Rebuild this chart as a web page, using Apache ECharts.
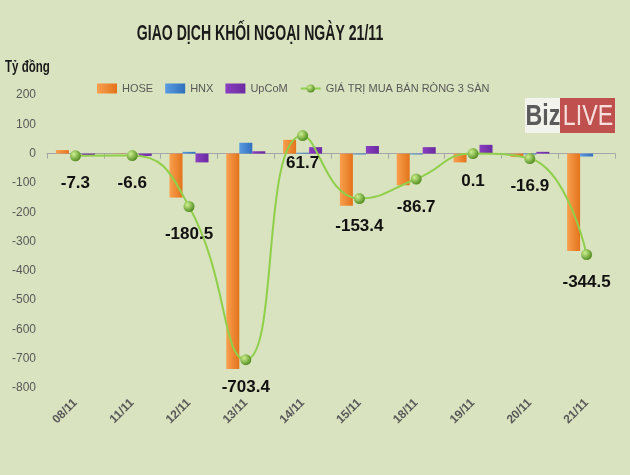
<!DOCTYPE html>
<html>
<head>
<meta charset="utf-8">
<script src="https://cdn.jsdelivr.net/npm/echarts@6/dist/echarts.min.js"></script>
<style>
	html, body { margin: 0; padding: 0; background: #d9e3bf; }
	#main { width: 630px; height: 475px; }
</style>
</head>
<body>
<div id="main"></div>
<script>
const days = ['08/11', '11/11', '12/11', '13/11', '14/11', '15/11', '18/11', '19/11', '20/11', '21/11']
const hose = [12, -1, -150, -735, 47, -178, -108, -30, -12, -332]
const hnx = [-1, 0, 6, 37, 3, -3, -3, -3, -3, -10]
const upcom = [-6, -8, -30, 8, 22, 26, 22, 30, 6, 0]
const netTotal = [-7.3, -6.6, -180.5, -703.4, 61.7, -153.4, -86.7, 0.1, -16.9, -344.5]

const font = "'Liberation Sans', Arial, sans-serif"
const grey = '#595959'

const chart = echarts.init(document.getElementById('main'))

const barStyle = (light, dark) => ({
	color: new echarts.graphic.LinearGradient(0, 0, 1, 0, [
		{ offset: 0, color: light },
		{ offset: 1, color: dark },
	]),
})

// narrow-looking texts: the original uses a condensed face, so squeeze horizontally
const option = {
	backgroundColor: '#d9e3bf',
	animation: false,
	graphic: [
		{
			type: 'text', x: 260, y: 34, scaleX: 0.64,
			style: { text: 'GIAO DỊCH KHỐI NGOẠI NGÀY 21/11', font: `bold 22px ${font}`, fill: '#1a1a1a', align: 'center', verticalAlign: 'middle' },
		},
		{
			type: 'text', x: 5, y: 68, scaleX: 0.72,
			style: { text: 'Tỷ đồng', font: `bold 16px ${font}`, fill: '#1a1a1a', verticalAlign: 'middle' },
		},
		{ type: 'rect', x: 525, y: 98, shape: { width: 36, height: 35 }, style: { fill: '#f2f3ec' } },
		{ type: 'rect', x: 560, y: 98, shape: { width: 55, height: 35 }, style: { fill: '#c0504d' } },
		{
			type: 'text', x: 543, y: 117, scaleX: 0.8,
			style: { text: 'Biz', font: `bold 29px ${font}`, fill: '#5a5a5a', align: 'center', verticalAlign: 'middle' },
		},
		{
			type: 'text', x: 588, y: 117, scaleX: 0.8,
			style: { text: 'LIVE', font: `29px ${font}`, fill: '#f5dedd', align: 'center', verticalAlign: 'middle' },
		},
	],
	legend: {
		left: 92,
		top: 78,
		itemWidth: 20,
		itemHeight: 10,
		itemGap: 12,
		textStyle: { fontFamily: font, fontSize: 11, color: grey },
		data: [
			{ name: 'HOSE', icon: 'rect' },
			{ name: 'HNX', icon: 'rect' },
			{ name: 'UpCoM', icon: 'rect' },
			{ name: 'GIÁ TRỊ MUA BÁN RÒNG 3 SÀN' },
		],
	},
	grid: { left: 47, right: 15, top: 95, bottom: 87 },
	xAxis: [
		{
			type: 'category',
			data: days,
			axisLine: { onZero: true, lineStyle: { color: '#a6a6a6', width: 1 } },
			axisTick: { show: true, length: 5, lineStyle: { color: '#a6a6a6' } },
			axisLabel: { show: false },
		},
		{
			type: 'category',
			data: days,
			position: 'bottom',
			axisLine: { show: false, onZero: false },
			axisTick: { show: false },
			axisLabel: {
				rotate: 45,
				margin: 13,
				fontFamily: font,
				fontSize: 12,
				fontWeight: 'bold',
				color: grey,
			},
		},
	],
	yAxis: {
		type: 'value',
		min: -800,
		max: 200,
		interval: 100,
		axisLine: { show: false },
		axisTick: { show: false },
		splitLine: { show: false },
		axisLabel: { margin: 11, fontFamily: font, fontSize: 12, color: grey },
	},
	series: [
		{
			name: 'HOSE',
			type: 'bar',
			data: hose,
			barWidth: 13,
			barGap: '0%',
			itemStyle: barStyle('#f9a04f', '#e3731b'),
		},
		{
			name: 'HNX',
			type: 'bar',
			data: hnx,
			barWidth: 13,
			itemStyle: barStyle('#5b9be0', '#2f6fbd'),
		},
		{
			name: 'UpCoM',
			type: 'bar',
			data: upcom,
			barWidth: 13,
			itemStyle: barStyle('#8a3fc0', '#6a2aa0'),
		},
		{
			name: 'GIÁ TRỊ MUA BÁN RÒNG 3 SÀN',
			type: 'line',
			data: netTotal,
			smooth: 0.5,
			z: 5,
			symbol: 'circle',
			symbolSize: 11,
			lineStyle: { color: '#8fcf4a', width: 2 },
			itemStyle: {
				color: new echarts.graphic.RadialGradient(0.35, 0.35, 0.7, [
					{ offset: 0, color: '#cdf08f' },
					{ offset: 1, color: '#4f8a1d' },
				]),
				borderWidth: 0,
			},
			label: {
				show: true,
				position: 'bottom',
				distance: 14,
				fontFamily: font,
				fontSize: 17,
				fontWeight: 'bold',
				color: '#111',
			},
		},
	],
}

chart.setOption(option)
</script>
</body>
</html>
